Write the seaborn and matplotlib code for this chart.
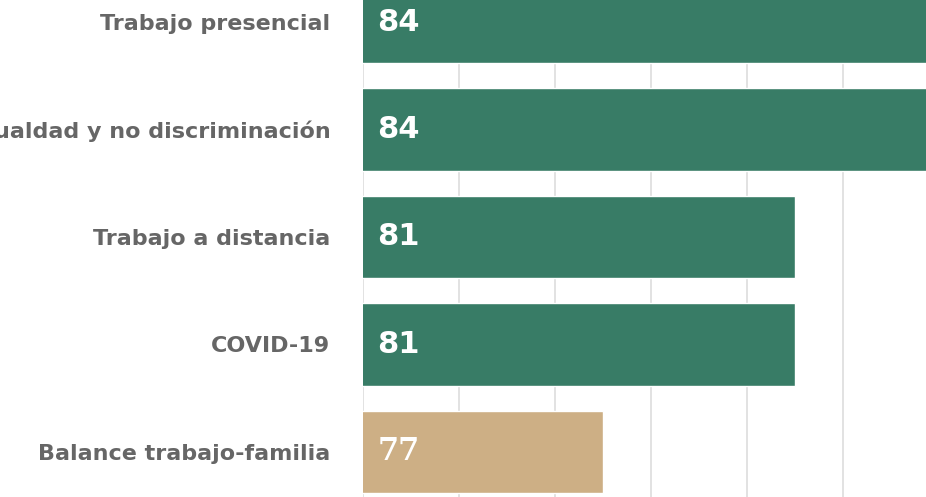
import pandas as pd
import matplotlib
matplotlib.use('Agg')
import matplotlib.pyplot as plt
import seaborn as sns

# data
categories = ['Trabajo presencial', 'Igualdad y no discriminación',
              'Trabajo a distancia', 'COVID-19', 'Balance trabajo-familia']
values = [84, 84, 81, 81, 77]
groups = ['top', 'top', 'top', 'top', 'low']

df = pd.DataFrame({'tema': categories, 'valor': values, 'grupo': groups})

sns.set_style('white')
plt.rcParams['font.family'] = ['DejaVu Sans']

fig = plt.figure(figsize=(9.26, 4.97), dpi=100)
ax = fig.add_axes([363 / 926, 0, 1 - 363 / 926, 1])

sns.barplot(data=df, x='valor', y='tema', hue='grupo', orient='h',
            palette={'top': '#387c66', 'low': '#cdaf85'}, dodge=False,
            saturation=1, width=0.765, legend=False, ax=ax, zorder=2)

ax.set_xlim(72, 83.73)
ax.set_ylim(4.42, -0.205)
ax.set_xticks(range(72, 84, 2))
ax.grid(axis='x', color='#dddddd', linewidth=1.2, zorder=0)
ax.set_axisbelow(True)
ax.tick_params(axis='x', bottom=False, labelbottom=False)
ax.tick_params(axis='y', left=False, pad=20, labelsize=16, labelcolor='#666666')
for lbl in ax.get_yticklabels():
    lbl.set_fontweight('bold')
ax.set_xlabel('')
ax.set_ylabel('')
for s in ax.spines.values():
    s.set_visible(False)

# value labels inside the bars (the last one renders in a serif face)
for i, v in enumerate(values):
    fam = 'DejaVu Serif' if groups[i] == 'low' else 'DejaVu Sans'
    ax.text(72.3, i, str(v), color='white', fontsize=22, fontweight='bold',
            family=fam, va='center', ha='left', zorder=3)

fig.savefig('out.png', dpi=100)
